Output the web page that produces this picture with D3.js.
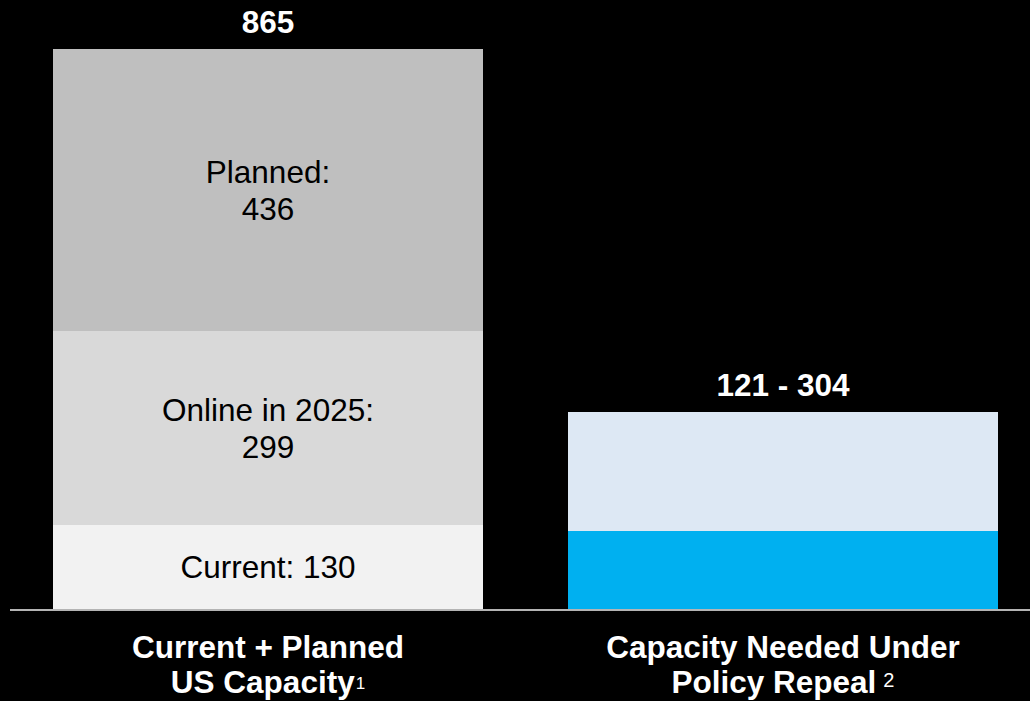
<!DOCTYPE html>
<html>
<head>
<meta charset="utf-8">
<script src="https://cdn.jsdelivr.net/npm/d3@7/dist/d3.min.js"></script>
<style>
  html, body { margin: 0; padding: 0; background: #000; }
  svg { display: block; font-family: "Liberation Sans", Arial, sans-serif; }
</style>
</head>
<body>
<svg id="chart" width="1030" height="701"></svg>
<script>
// Capacity bars (GW)
const categories = ["Current + Planned US Capacity", "Capacity Needed Under Policy Repeal"];
const categoryLines = [["Current + Planned", "US Capacity"], ["Capacity Needed Under", "Policy Repeal"]];
const footnotes = ["1", "2"];

// Stack on the first bar
const stackNames = ["Current", "Online in 2025", "Planned"];
const stackValues = [130, 299, 436];
const stackLabels = [["Current: 130"], ["Online in 2025:", "299"], ["Planned:", "436"]];
const stackColors = ["#f2f2f2", "#d9d9d9", "#bfbfbf"];
const stackTotal = "865";

// Range on the second bar
const rangeLow = 121;
const rangeHigh = 304;
const rangeLabel = "121 - 304";
const rangeColors = ["#00b0f0", "#dde8f4"];

const svg = d3.select("#chart");
const W = 1030;
const baseY = 609;
const FS = 31.5;          // label font size
const CAP = FS * 0.716;   // cap height of the label font

const x = d3.scaleBand().domain(categories)
  .range([10, 1041]).paddingInner(0.165).paddingOuter(0.0835);
const bw = x.bandwidth();
const y = d3.scaleLinear().domain([0, 865]).range([baseY, 49]);

const g = svg.append("g");

// first bar: stacked segments
let acc = 0;
const segs = stackValues.map((v, i) => {
  const s = { y0: acc, y1: acc + v, i };
  acc += v;
  return s;
});

g.selectAll("rect.seg").data(segs).join("rect")
  .attr("class", "seg")
  .attr("shape-rendering", "crispEdges")
  .attr("x", x(categories[0]))
  .attr("width", bw)
  .attr("y", d => Math.round(y(d.y1)))
  .attr("height", d => Math.round(y(d.y0)) - Math.round(y(d.y1)))
  .attr("fill", d => stackColors[d.i]);

segs.forEach(d => {
  const lines = stackLabels[d.i];
  const cy = (y(d.y0) + y(d.y1)) / 2;
  const lh = 37;
  lines.forEach((t, k) => {
    g.append("text")
      .attr("x", x(categories[0]) + bw / 2)
      .attr("y", cy + CAP / 2 + (k - (lines.length - 1) / 2) * lh)
      .attr("text-anchor", "middle")
      .attr("font-size", FS)
      .attr("fill", "#000")
      .text(t);
  });
});

g.append("text")
  .attr("x", x(categories[0]) + bw / 2)
  .attr("y", y(acc) - 16)
  .attr("text-anchor", "middle")
  .attr("font-size", FS)
  .attr("font-weight", "bold")
  .attr("fill", "#fff")
  .text(stackTotal);

// second bar: low value plus range up to high value
const rangeSegs = [{ y0: 0, y1: rangeLow, c: rangeColors[0] }, { y0: rangeLow, y1: rangeHigh, c: rangeColors[1] }];
g.selectAll("rect.rng").data(rangeSegs).join("rect")
  .attr("class", "rng")
  .attr("shape-rendering", "crispEdges")
  .attr("x", x(categories[1]))
  .attr("width", bw)
  .attr("y", d => Math.round(y(d.y1)))
  .attr("height", d => Math.round(y(d.y0)) - Math.round(y(d.y1)))
  .attr("fill", d => d.c);

g.append("text")
  .attr("x", x(categories[1]) + bw / 2)
  .attr("y", y(rangeHigh) - 16)
  .attr("text-anchor", "middle")
  .attr("font-size", FS)
  .attr("font-weight", "bold")
  .attr("fill", "#fff")
  .text(rangeLabel);

// baseline
g.append("line")
  .attr("x1", 10).attr("x2", W)
  .attr("y1", baseY + 1).attr("y2", baseY + 1)
  .attr("stroke", "#b4b4b4").attr("stroke-width", 2);

// category labels with footnote markers
categories.forEach((c, i) => {
  const cx = x(c) + bw / 2;
  const lines = categoryLines[i];
  lines.forEach((t, k) => {
    const txt = g.append("text")
      .attr("x", cx)
      .attr("y", 658 + k * 35)
      .attr("text-anchor", "middle")
      .attr("font-size", FS)
      .attr("font-weight", "bold")
      .attr("fill", "#fff");
    txt.append("tspan").text(t);
    if (k === lines.length - 1) {
      txt.append("tspan")
        .attr("font-weight", "normal")
        .attr("font-size", i === 0 ? 17 : 20)
        .attr("dx", i === 0 ? 1 : 7)
        .attr("dy", i === 0 ? -4 : -6)
        .text(footnotes[i]);
    }
  });
});
</script>
</body>
</html>
